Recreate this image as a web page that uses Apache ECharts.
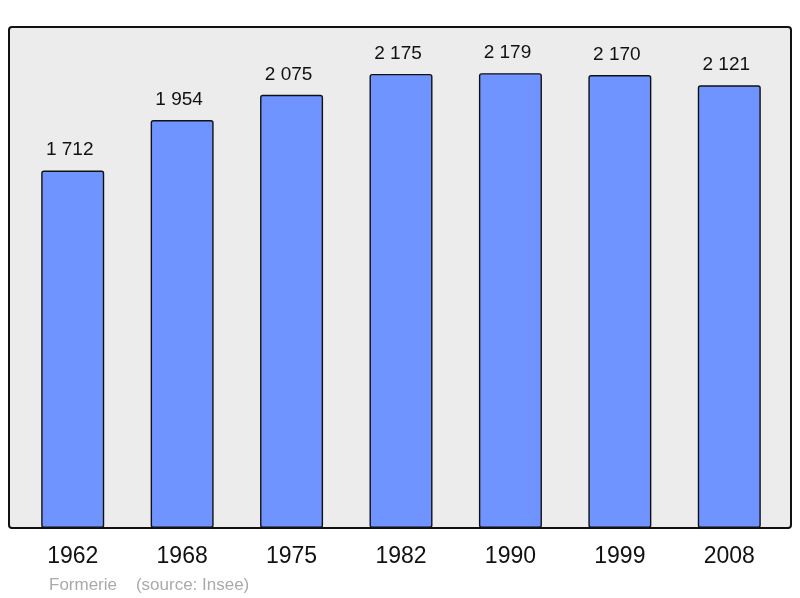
<!DOCTYPE html>
<html>
<head>
<meta charset="utf-8">
<script src="https://cdn.jsdelivr.net/npm/echarts@6/dist/echarts.min.js"></script>
<style>
html,body{margin:0;padding:0;background:#fff;}
#chart{width:800px;height:598px;}
</style>
</head>
<body>
<div id="chart"></div>
<script>
const years = ['1962','1968','1975','1982','1990','1999','2008'];
const population = [1712, 1954, 2075, 2175, 2179, 2170, 2121];
const sourceText = 'Formerie    (source: Insee)';

function fmt(v){ return String(v).replace(/\B(?=(\d{3})+(?!\d))/g, ' '); }

const chart = echarts.init(document.getElementById('chart'), null, {renderer:'canvas'});
chart.setOption({
  animation: false,
  backgroundColor: '#ffffff',
  textStyle: { fontFamily: 'Liberation Sans, Arial, sans-serif' },
  graphic: [
    { type: 'rect', z: -10, shape: { x: 9, y: 27, width: 782, height: 501, r: 3 },
      style: { fill: '#ececec', stroke: '#111', lineWidth: 2 } },
    { type: 'text', left: 49, top: 577,
      style: { text: sourceText, fill: '#aaaaaa', font: '17px Liberation Sans, Arial, sans-serif' } }
  ],
  grid: { left: 18, right: 16, top: 27, bottom: 70, containLabel: false },
  xAxis: {
    type: 'category', data: years,
    axisLine: { show: false }, axisTick: { show: false },
    axisLabel: { color: '#111', fontSize: 23, margin: 17 }
  },
  yAxis: {
    type: 'value', min: 0, max: 2400,
    show: false, splitLine: { show: false }
  },
  series: [{
    type: 'bar', data: population, barWidth: 63,
    itemStyle: { color: '#7094ff', borderColor: '#111', borderWidth: 1.4, borderRadius: 2 },
    label: { show: true, position: 'top', distance: 11, offset: [-3, 0], color: '#111', fontSize: 19,
      formatter: p => fmt(p.value) }
  }]
});
</script>
</body>
</html>
